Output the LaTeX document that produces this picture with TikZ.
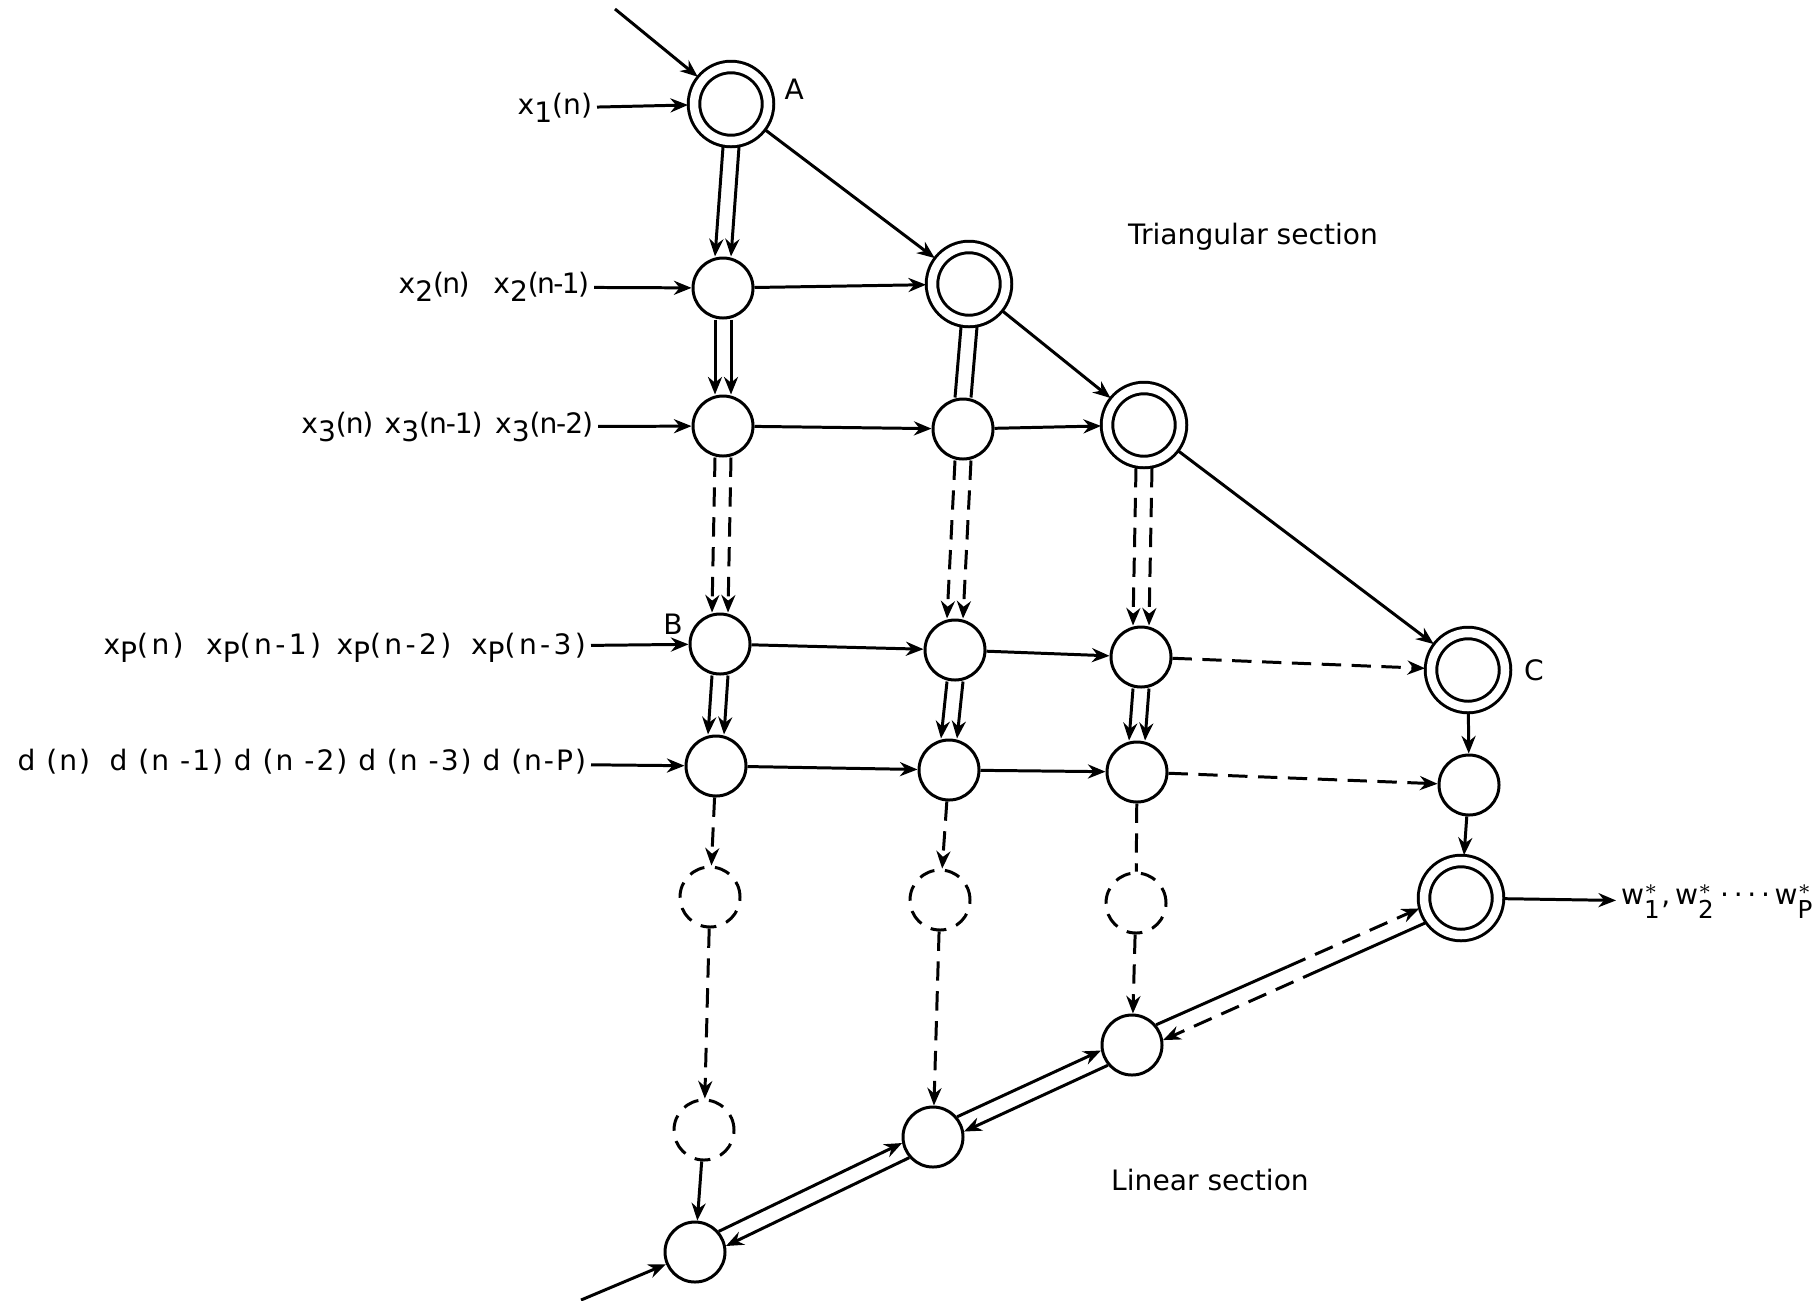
\documentclass[tikz,border=0pt]{standalone}
\usepackage{fontspec}
\setsansfont{DejaVu Sans}
\usepackage{tikz}
\usetikzlibrary{arrows.meta, positioning, calc}
\newcommand{\dn}[1]{\raisebox{-0.3em}{#1}}
\newcommand{\wst}[1]{w$^{*}_{\mbox{\fontsize{7}{7}\selectfont #1}}$}
\newcommand{\ls}[1]{\addfontfeature{LetterSpace=#1}}

\begin{document}
\begin{tikzpicture}[x=0.1mm, y=-0.1mm, font=\sffamily\fontsize{8}{9}\selectfont,
        line width=0.85pt, >={Stealth[length=5pt,width=4pt]},
        cell/.style={circle, draw, minimum size=6mm, inner sep=0pt},
        dcell/.style={circle, draw, double, double distance=0.85mm,
                minimum size=7.4mm, inner sep=0pt, outer sep=0.6mm},
        ghost/.style={cell, dash pattern=on 4.5pt off 3pt},
        dsh/.style={dash pattern=on 5.5pt off 3pt},
        lbl/.style={inner sep=1pt, anchor=east}]
        \useasboundingbox (0,0) rectangle (1820,1300);

        \node[dcell] (A) at (731,104) {};
        \node[cell] (r2c1) at (723,288) {};
        \node[dcell] (r2c2) at (969,284) {};
        \node[cell] (r3c1) at (723,426) {};
        \node[cell] (r3c2) at (963,429) {};
        \node[dcell] (r3c3) at (1144,425) {};
        \node[cell] (B) at (720,644) {};
        \node[cell] (rPc2) at (955,650) {};
        \node[cell] (rPc3) at (1141,657) {};
        \node[dcell] (C) at (1468,670) {};
        \node[cell] (rdc1) at (716,766) {};
        \node[cell] (rdc2) at (949,770) {};
        \node[cell] (rdc3) at (1137,772) {};
        \node[cell] (rdc4) at (1469,785) {};
        \node[ghost] (g1) at (710,897) {};
        \node[ghost] (g2) at (940,900) {};
        \node[ghost] (g3) at (1136,903) {};
        \node[ghost] (g1b) at (704,1130) {};
        \node[dcell] (out) at (1461,898) {};
        \node[cell] (lc3) at (1132,1045) {};
        \node[cell] (lc2) at (933,1137) {};
        \node[cell] (lc1) at (695,1252) {};

        \node[right=0pt of A.20] (lA) {A};
        \node[left=0pt of B.140] (lB) {B};
        \node[right=0pt of C] (lC) {C};
        \node[anchor=west, inner sep=1pt] (w) at (1616,902) {\wst{1},\,\wst{2}\,·\,·\,·\,·\,\wst{P}};
        \node (tri) at (1253,237) {Triangular section};
        \node (lin) at (1210,1180) {Linear section};

        \node[lbl] (lx1) at (597,108) {x\dn{1}(n)};
        \node[lbl] (lx2) at (594,287) {\ls{-6}x\dn{2}(n)\hspace{0.85em}x\dn{2}(n-1)};
        \node[lbl] (lx3) at (598,427) {\ls{-4}x\dn{3}(n)\hspace{0.4em}x\dn{3}(n-1)\hspace{0.45em}x\dn{3}(n-2)};
        \node[lbl] (lxP) at (591,648) {\ls{12}x\dn{P}(n)\hspace{0.8em}x\dn{P}(n-1)\hspace{0.55em}x\dn{P}(n-2)\hspace{0.7em}x\dn{P}(n-3)};
        \node[lbl] (ld) at (591,762) {\ls{7}d (n)\hspace{0.7em}d (n -1) d (n -2) d (n -3) d (n-P)};

        \coordinate (tin) at (615,9);
        \coordinate (bin) at (581,1300);

	\path[->]
		(tin) edge (A)
		(A) edge (r2c2)
		(r2c2) edge (r3c3)
		(r3c3) edge (C)
		(lx1) edge (A)
		(lx2) edge (r2c1)
		(r2c1) edge (r2c2)
		(lx3) edge (r3c1)
		(r3c1) edge (r3c2)
		(r3c2) edge (r3c3)
		(lxP) edge (B)
		(B) edge (rPc2)
		(rPc2) edge (rPc3)
		(rPc3) edge[dsh] (C)
		(ld) edge (rdc1)
		(rdc1) edge (rdc2)
		(rdc2) edge (rdc3)
		(rdc3) edge[dsh] (rdc4)
		(C) edge (rdc4)
		(rdc4) edge (out)
		(out) edge (w)
		(rdc1) edge[dsh] (g1)
		(g1) edge[dsh] (g1b)
		(g1b) edge (lc1)
		(rdc2) edge[dsh] (g2)
		(g2) edge[dsh] (lc2)
		(rdc3) edge[dsh,-] (g3)
		(g3) edge[dsh] (lc3)
		(bin) edge (lc1)
		(lc1.41) edge (lc2.191)
		(lc2.221) edge (lc1.11)
		(lc2.40) edge (lc3.190)
		(lc3.220) edge (lc2.10);

        \foreach \a/\b in {A/r2c1, r2c1/r3c1, B/rdc1, rPc2/rdc2, rPc3/rdc3}
          \foreach \s in {-0.8mm, 0.8mm}
            \draw[->] ([xshift=\s]\a.south) -- ([xshift=\s]\b.north);
        \foreach \a/\b in {r3c1/B, r3c2/rPc2, r3c3/rPc3}
          \foreach \s in {-0.8mm, 0.8mm}
            \draw[->, dsh] ([xshift=\s]\a.south) -- ([xshift=\s]\b.north);
        \foreach \s in {-0.8mm, 0.8mm}
          \draw ([xshift=\s]r2c2.south) -- ([xshift=\s]r3c2.north);

        \draw (lc3.40) -- ($(lc3.40)!0.5!(out.194)$) coordinate (m1);
        \draw[->, dsh] (m1) -- (out.194);
        \draw (out.215) -- ($(out.215)!0.4!(lc3.9)$) coordinate (m2);
        \draw[->, dsh] (m2) -- (lc3.9);
\end{tikzpicture}
\end{document}
